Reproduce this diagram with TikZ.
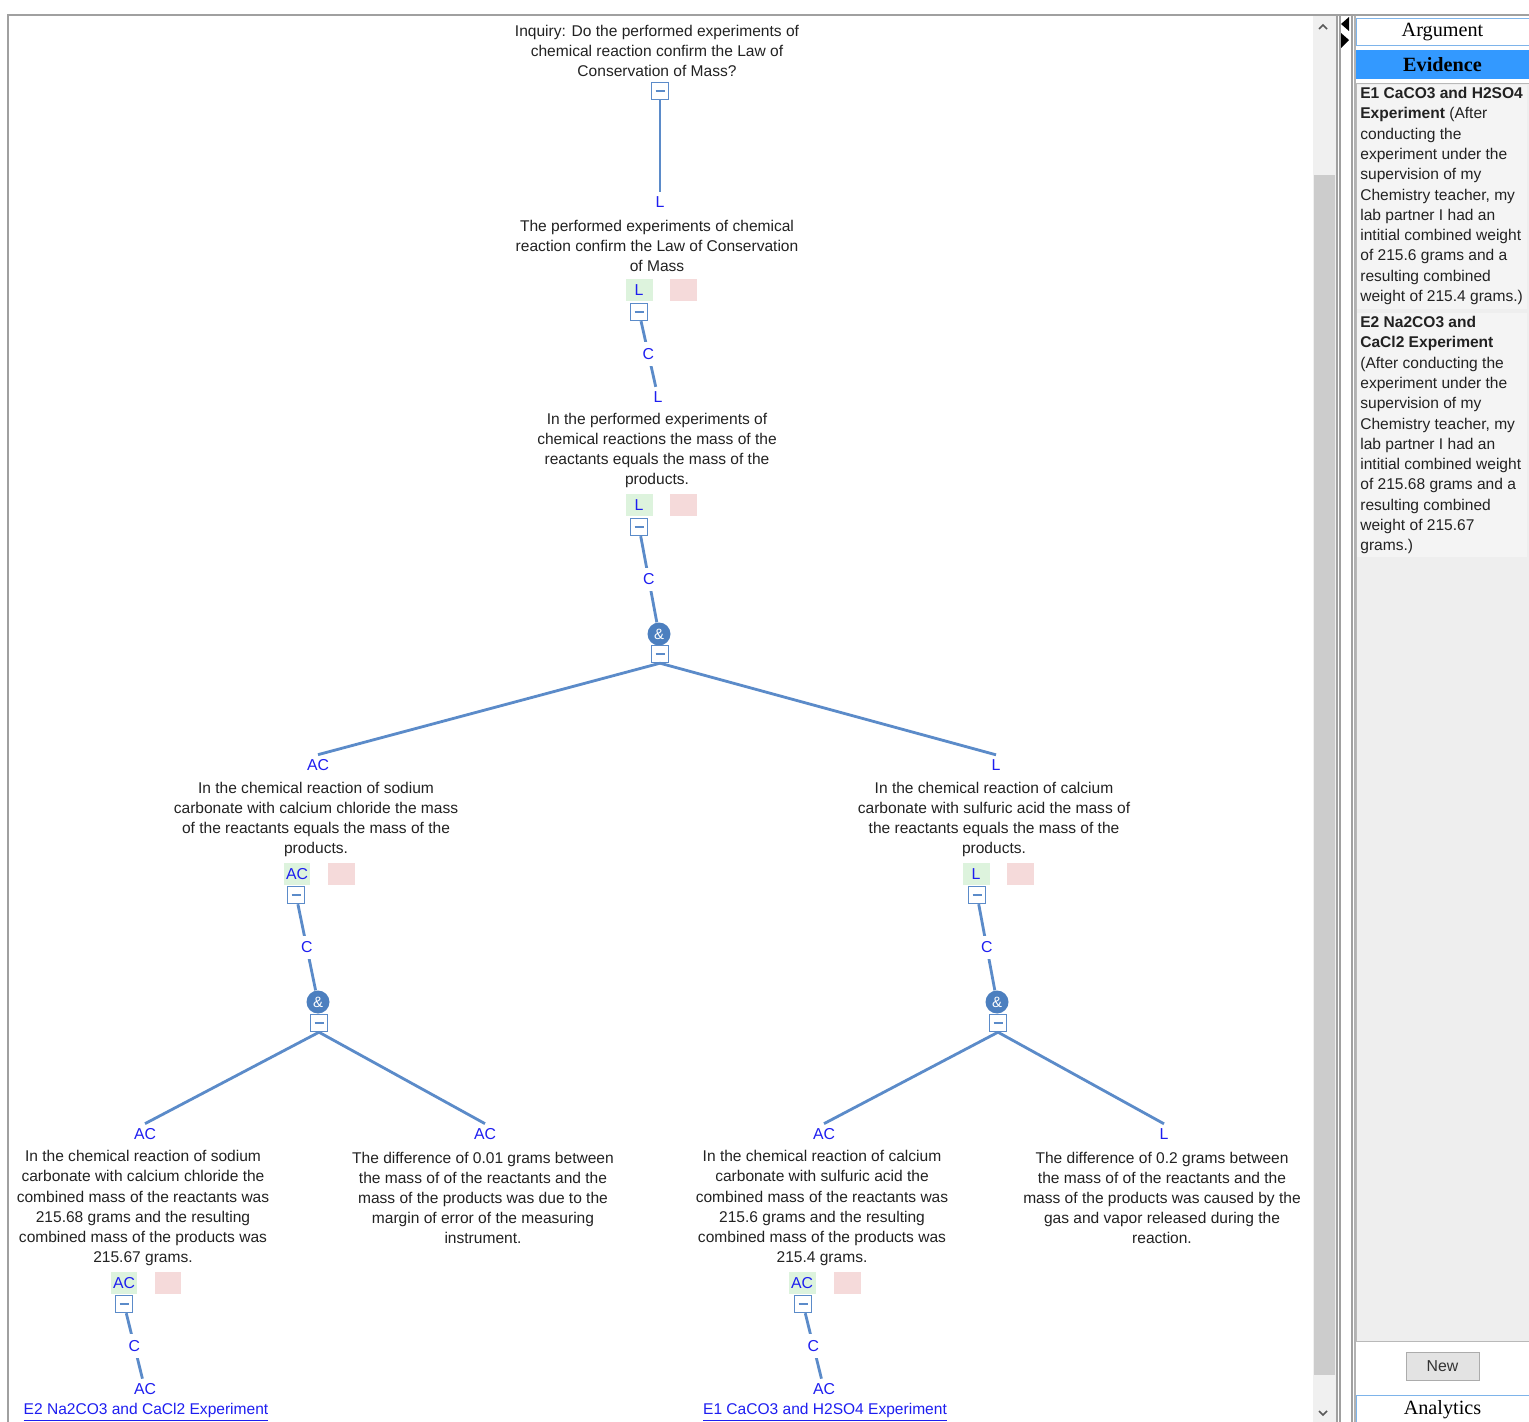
\documentclass[tikz,border=0pt]{standalone}
\usepackage{fontspec}
\setmainfont{Liberation Sans}
\newfontfamily\uiserif{Liberation Serif}
\usepackage{xcolor}
\usetikzlibrary{positioning,calc}

\definecolor{linkc}{HTML}{5B8BC9}
\definecolor{labc}{HTML}{1E1EF0}
\definecolor{txtc}{HTML}{222222}
\definecolor{greenbg}{HTML}{DDF3DD}
\definecolor{pinkbg}{HTML}{F5DADA}
\definecolor{ampc}{HTML}{4C7FBF}
\definecolor{framec}{HTML}{A0A0A0}
\definecolor{evblue}{HTML}{3399FF}
\definecolor{tabline}{HTML}{7EB4EA}

\tikzset{
    txt/.style={font=\fontsize{8.85}{11.4}\selectfont, align=center, inner sep=0pt, text=txtc},
    lab/.style={font=\fontsize{9}{11}\selectfont, text=labc, inner sep=2.5pt},
    clab/.style={lab, fill=white, inner sep=3.5pt},
    gbox/.style={fill=greenbg, minimum width=0.54cm, minimum height=0.44cm, inner sep=0pt,
        font=\fontsize{9}{11}\selectfont, text=labc},
    pbox/.style={fill=pinkbg, minimum width=0.54cm, minimum height=0.44cm, inner sep=0pt},
    minusbox/.style={draw=linkc, fill=white, minimum size=0.34cm, inner sep=0pt, line width=0.8pt,
        path picture={\draw[linkc, line width=0.8pt] ([xshift=-0.09cm]path picture bounding box.center)
            -- ([xshift=0.09cm]path picture bounding box.center);}},
    amp/.style={circle, fill=ampc, minimum size=0.46cm, inner sep=0pt, text=white,
        font=\fontsize{8.5}{8.5}\selectfont},
    conn/.style={draw=linkc, line width=1.6pt},
    evlink/.style={txt, text=labc},
    evitem/.style={font=\fontsize{8.85}{11.55}\selectfont, align=left, inner sep=0pt, anchor=north west, text=txtc}
}

\begin{document}
\begin{tikzpicture}[x=0.02cm, y=-0.02cm]
    \useasboundingbox (0,0) rectangle (1529,1422);
    \fill[white] (0,0) rectangle (1529,1422);

    % Frame
    \draw[framec, line width=1.2pt] (8,1422) -- (8,15) -- (1529,15);

    % Scrollbar
    \fill[gray!12] (1313,16) rectangle (1336,1422);
    \fill[gray!40] (1314,175) rectangle (1335,1375);
    \draw[gray!70!black, line width=0.9pt] (1319,29) -- (1323,25) -- (1327,29);
    \draw[gray!70!black, line width=0.9pt] (1319,1411) -- (1323,1415) -- (1327,1411);

    % Splitter
    \draw[framec, line width=0.8pt] (1337,16) -- (1337,1422);
    \draw[framec, line width=0.8pt] (1340,16) -- (1340,1422);
    \draw[framec, line width=0.8pt] (1352,16) -- (1352,1422);
    \draw[gray!60, line width=0.8pt] (1355,16) -- (1355,1422);
    \fill[black] (1349,17) -- (1341,24) -- (1349,31) -- cycle;
    \fill[black] (1341,33) -- (1349,40) -- (1341,48) -- cycle;

    % Side panel
    \node[draw=tabline, fill=white, minimum width=3.46cm, minimum height=0.54cm, inner sep=0pt,
        font=\uiserif\fontsize{11.5}{12}\selectfont] (argtab) at (1442.5,32) {Argument};
    \node[fill=evblue, minimum width=3.46cm, minimum height=0.58cm, inner sep=0pt,
        font=\uiserif\bfseries\fontsize{11.5}{12}\selectfont] (evtab) at (1442.5,65) {Evidence};
    \filldraw[fill=gray!13, draw=gray!55] (1356,83) rectangle (1529,1341);
    \fill[gray!9] (1357,85) rectangle (1527,309);
    \fill[gray!9] (1357,313) rectangle (1527,557);
    \node[evitem] (ev1) at (1360,87) {\textbf{E1 CaCO3 and H2SO4}\\ \textbf{Experiment} (After\\ conducting the\\
        experiment under the\\ supervision of my\\ Chemistry teacher, my\\ lab partner I had an\\
        intitial combined weight\\ of 215.6 grams and a\\ resulting combined\\ weight of 215.4 grams.)};
    \node[evitem] (ev2) at (1360,316) {\textbf{E2 Na2CO3 and}\\ \textbf{CaCl2 Experiment}\\ (After conducting the\\
        experiment under the\\ supervision of my\\ Chemistry teacher, my\\ lab partner I had an\\
        intitial combined weight\\ of 215.68 grams and a\\ resulting combined\\ weight of 215.67\\ grams.)};
    \node[draw=gray!65, fill=gray!22, minimum width=1.46cm, minimum height=0.56cm, inner sep=0pt,
        font=\fontsize{9}{10}\selectfont, text=black!80] (newbtn) at (1442.5,1366) {New};
    \node[draw=tabline, fill=white, minimum width=3.46cm, minimum height=0.6cm, inner sep=0pt,
        font=\uiserif\fontsize{11.5}{12}\selectfont] (antab) at (1442.5,1410) {Analytics};

    % Root inquiry
    \node[txt] (q) at (657,51) {Inquiry: Do the performed experiments of\\ chemical reaction confirm the Law of\\ Conservation of Mass?};
    \node[minusbox] (qm) at (660,91) {};
    \node[lab] (c1l) at (660,202) {L};
    \draw[conn] (qm) -- (c1l);

    % Claim
    \node[txt] (c1) at (657,246) {The performed experiments of chemical\\ reaction confirm the Law of Conservation\\ of Mass};
    \node[gbox] (c1g) at (639,290) {L};
    \node[pbox] (c1p) at (683,290) {};
    \node[minusbox] (c1m) at (639,312) {};
    \node[lab] (c2l) at (658,397) {L};
    \draw[conn] (c1m) -- node[clab] {C} (c2l);

    % Reason
    \node[txt] (c2) at (657,450.5) {In the performed experiments of\\ chemical reactions the mass of the\\ reactants equals the mass of the\\ products.};
    \node[gbox] (c2g) at (639,505) {L};
    \node[pbox] (c2p) at (683,505) {};
    \node[minusbox] (c2m) at (639,527) {};
    \node[amp] (a1) at (659,634) {\&};
    \node[minusbox] (a1m) at (660,654) {};
    \draw[conn] (c2m) -- node[clab] {C} (a1);

    % Two branches
    \node[lab] (bll) at (318,765) {AC};
    \node[lab] (brl) at (996,765) {L};
    \draw[conn] (a1m.south) -- (bll.north);
    \draw[conn] (a1m.south) -- (brl.north);

    \node[txt] (bl) at (316,819.5) {In the chemical reaction of sodium\\ carbonate with calcium chloride the mass\\ of the reactants equals the mass of the\\ products.};
    \node[txt] (br) at (994,819.5) {In the chemical reaction of calcium\\ carbonate with sulfuric acid the mass of\\ the reactants equals the mass of the\\ products.};

    % Left branch
    \node[gbox] (blg) at (297,874) {AC};
    \node[pbox] (blp) at (341,874) {};
    \node[minusbox] (blm) at (296,895) {};
    \node[amp] (a2) at (318,1002) {\&};
    \node[minusbox] (a2m) at (319,1023) {};
    \draw[conn] (blm) -- node[clab] {C} (a2);

    % Right branch
    \node[gbox] (brg) at (976,874) {L};
    \node[pbox] (brp) at (1020,874) {};
    \node[minusbox] (brm) at (977,895) {};
    \node[amp] (a3) at (997,1002) {\&};
    \node[minusbox] (a3m) at (998,1023) {};
    \draw[conn] (brm) -- node[clab] {C} (a3);

    % Leaves
    \node[lab] (l1l) at (145,1134) {AC};
    \node[lab] (l2l) at (485,1134) {AC};
    \node[lab] (l3l) at (824,1134) {AC};
    \node[lab] (l4l) at (1164,1134) {L};
    \draw[conn] (a2m.south) -- (l1l.north);
    \draw[conn] (a2m.south) -- (l2l.north);
    \draw[conn] (a3m.south) -- (l3l.north);
    \draw[conn] (a3m.south) -- (l4l.north);

    \node[txt] (l1) at (143,1208) {In the chemical reaction of sodium\\ carbonate with calcium chloride the\\ combined mass of the reactants was\\ 215.68 grams and the resulting\\ combined mass of the products was\\ 215.67 grams.};
    \node[txt] (l2) at (483,1197.5) {The difference of 0.01 grams between\\ the mass of of the reactants and the\\ mass of the products was due to the\\ margin of error of the measuring\\ instrument.};
    \node[txt] (l3) at (822,1208) {In the chemical reaction of calcium\\ carbonate with sulfuric acid the\\ combined mass of the reactants was\\ 215.6 grams and the resulting\\ combined mass of the products was\\ 215.4 grams.};
    \node[txt] (l4) at (1162,1197.5) {The difference of 0.2 grams between\\ the mass of of the reactants and the\\ mass of the products was caused by the\\ gas and vapor released during the\\ reaction.};

    % Evidence links
    \node[gbox] (l1g) at (124,1283) {AC};
    \node[pbox] (l1p) at (168,1283) {};
    \node[minusbox] (l1m) at (124,1304) {};
    \node[lab] (e2l) at (145,1389) {AC};
    \draw[conn] (l1m) -- node[clab] {C} (e2l);
    \node[evlink] (e2) at (146,1412) {\underline{E2 Na2CO3 and CaCl2 Experiment}};

    \node[gbox] (l3g) at (802,1283) {AC};
    \node[pbox] (l3p) at (847,1283) {};
    \node[minusbox] (l3m) at (803,1304) {};
    \node[lab] (e1l) at (824,1389) {AC};
    \draw[conn] (l3m) -- node[clab] {C} (e1l);
    \node[evlink] (e1) at (825,1412) {\underline{E1 CaCO3 and H2SO4 Experiment}};
\end{tikzpicture}
\end{document}
